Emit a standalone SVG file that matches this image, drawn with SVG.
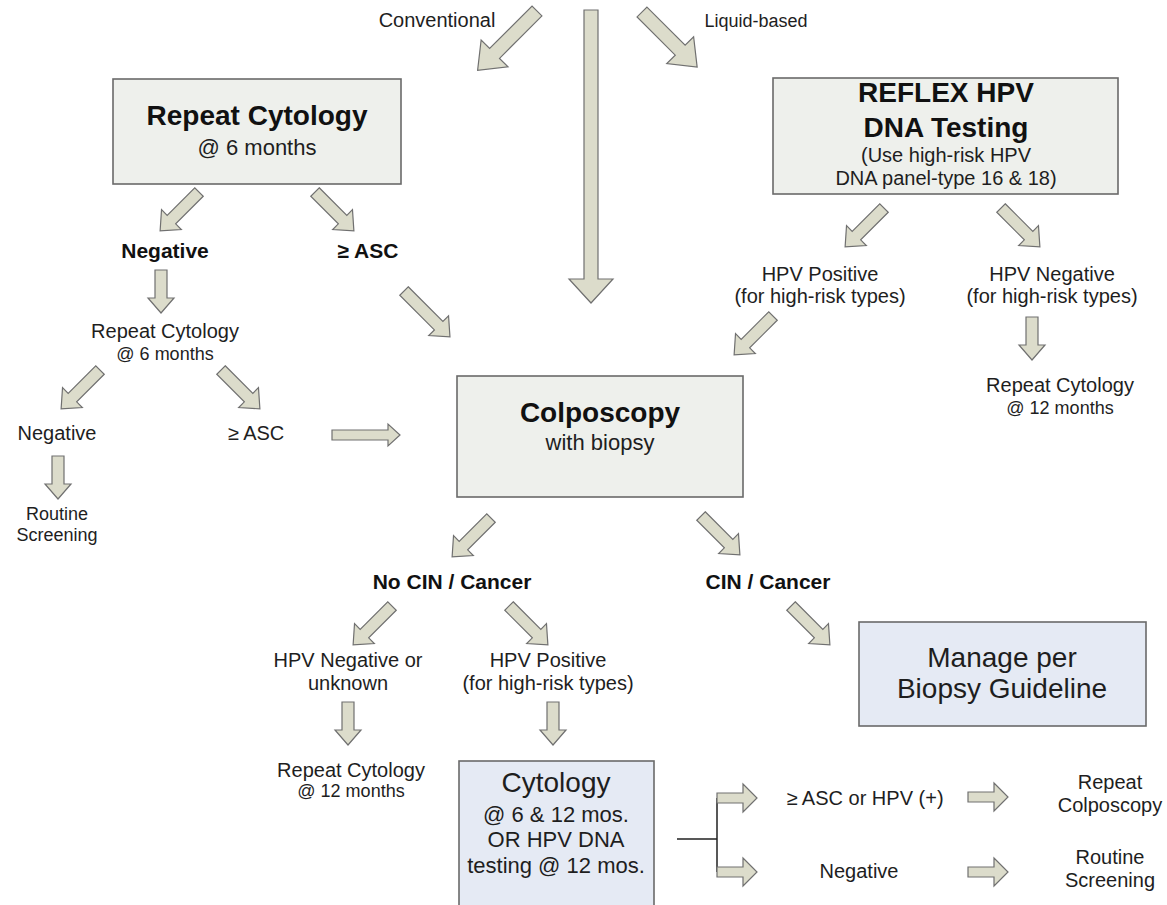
<svg xmlns="http://www.w3.org/2000/svg" width="1167" height="905" viewBox="0 0 1167 905">
<defs>
<style>
.box{fill:#eef0ec;stroke:#6a6a6a;stroke-width:1.6}
.bbox{fill:#e5eaf4;stroke:#6a6a6a;stroke-width:1.6}
.ar{fill:#dcdccb;stroke:#707070;stroke-width:1.2;stroke-linejoin:miter}
text{font-family:"Liberation Sans",Arial,sans-serif;fill:#1e1e1e;text-anchor:middle}
.b{font-weight:bold;fill:#111}
.t28{font-size:28px}
.t22{font-size:22px}
.t21{font-size:21px}
.t20{font-size:20px}
.t18{font-size:18px}
</style>
<path id="ad" d="M0,-6 L39,-6 L39,-14 L55,0 L39,14 L39,6 L0,6 Z"/>
<path id="ad65" d="M0,-6 L49,-6 L49,-14 L65,0 L49,14 L49,6 L0,6 Z"/>
<path id="av" d="M0,-6 L28,-6 L28,-13 L43,0 L28,13 L28,6 L0,6 Z"/>
<path id="ah" d="M0,-5 L26,-5 L26,-14 L40,0 L26,14 L26,5 L0,5 Z"/>
</defs>
<g id="connectors">
<path class="ar" transform="translate(537,11) rotate(135)" d="M0,-7 L60,-7 L60,-19 L84,0 L60,19 L60,7 L0,7 Z"/>
<path class="ar" transform="translate(642,12) rotate(45)" d="M0,-7 L54,-7 L54,-19 L78,0 L54,19 L54,7 L0,7 Z"/>
<path class="ar" transform="translate(591,10) rotate(90)" d="M0,-7 L269,-7 L269,-22 L293,0 L269,22 L269,7 L0,7 Z"/>
<use href="#ad" class="ar" transform="translate(199,192) rotate(135)"/>
<use href="#ad" class="ar" transform="translate(315,192) rotate(45)"/>
<use href="#av" class="ar" transform="translate(161,270) rotate(90)"/>
<use href="#ad65" class="ar" transform="translate(404,291) rotate(45)"/>
<use href="#ad" class="ar" transform="translate(100,370) rotate(135)"/>
<use href="#ad" class="ar" transform="translate(221,370) rotate(45)"/>
<use href="#av" class="ar" transform="translate(58,456) rotate(90)"/>
<path class="ar" transform="translate(332,435)" d="M0,-5 L56,-5 L56,-11 L68,0 L56,11 L56,5 L0,5 Z"/>
<use href="#ad" class="ar" transform="translate(884,208) rotate(135)"/>
<use href="#ad" class="ar" transform="translate(1001,208) rotate(45)"/>
<use href="#ad" class="ar" transform="translate(773,316) rotate(135)"/>
<use href="#av" class="ar" transform="translate(1032,317) rotate(90)"/>
<use href="#ad" class="ar" transform="translate(491,518) rotate(135)"/>
<use href="#ad" class="ar" transform="translate(701,516) rotate(45)"/>
<use href="#ad" class="ar" transform="translate(791,606) rotate(45)"/>
<use href="#ad" class="ar" transform="translate(392,606) rotate(135)"/>
<use href="#ad" class="ar" transform="translate(509,606) rotate(45)"/>
<use href="#av" class="ar" transform="translate(348,702) rotate(90)"/>
<use href="#av" class="ar" transform="translate(553,702) rotate(90)"/>
<path d="M677,839 H717 M717,798 V872" fill="none" stroke="#222" stroke-width="1.5"/>
<use href="#ah" class="ar" transform="translate(717,798)"/>
<use href="#ah" class="ar" transform="translate(717,872)"/>
<use href="#ah" class="ar" transform="translate(968,797)"/>
<use href="#ah" class="ar" transform="translate(968,872)"/>
</g>
<g id="labels-top">
<text class="t20" x="437" y="27">Conventional</text>
<text class="t18" x="756" y="27">Liquid-based</text>
</g>
<g id="n-repeat-cytology">
<rect class="box" x="113" y="79" width="288" height="105"/>
<text class="b t28" x="257" y="125">Repeat Cytology</text>
<text class="t22" x="257" y="155">@ 6 months</text>
</g>
<g id="n-reflex">
<rect class="box" x="773" y="78" width="345" height="116"/>
<text class="b t28" x="946" y="102">REFLEX HPV</text>
<text class="b t28" x="946" y="137">DNA Testing</text>
<text class="t20" x="946" y="162">(Use high-risk HPV</text>
<text class="t20" x="946" y="185">DNA panel-type 16 &amp; 18)</text>
</g>
<g id="n-negative1"><text class="b t21" x="165" y="258">Negative</text></g>
<g id="n-asc1"><text class="b t21" x="368" y="258">≥ ASC</text></g>
<g id="n-repeat6">
<text class="t20" x="165" y="338">Repeat Cytology</text>
<text class="t18" x="165" y="360">@ 6 months</text>
</g>
<g id="n-negative2"><text class="t20" x="57" y="440">Negative</text></g>
<g id="n-asc2"><text class="t20" x="256" y="440">≥ ASC</text></g>
<g id="n-routine1">
<text class="t18" x="57" y="520">Routine</text>
<text class="t18" x="57" y="541">Screening</text>
</g>
<g id="n-hpvpos1">
<text class="t20" x="820" y="281">HPV Positive</text>
<text class="t20" x="820" y="303">(for high-risk types)</text>
</g>
<g id="n-hpvneg1">
<text class="t20" x="1052" y="281">HPV Negative</text>
<text class="t20" x="1052" y="303">(for high-risk types)</text>
</g>
<g id="n-repeat12a">
<text class="t20" x="1060" y="392">Repeat Cytology</text>
<text class="t18" x="1060" y="414">@ 12 months</text>
</g>
<g id="n-colposcopy">
<rect class="box" x="457" y="376" width="286" height="121"/>
<text class="b t28" x="600" y="422">Colposcopy</text>
<text class="t22" x="600" y="450">with biopsy</text>
</g>
<g id="n-nocin"><text class="b t21" x="452" y="589">No CIN / Cancer</text></g>
<g id="n-cin"><text class="b t21" x="768" y="589">CIN / Cancer</text></g>
<g id="n-manage">
<rect class="bbox" x="859" y="622" width="287" height="104"/>
<text class="t28" x="1002" y="667">Manage per</text>
<text class="t28" x="1002" y="698">Biopsy Guideline</text>
</g>
<g id="n-hpvneg2">
<text class="t20" x="348" y="667">HPV Negative or</text>
<text class="t20" x="348" y="690">unknown</text>
</g>
<g id="n-hpvpos2">
<text class="t20" x="548" y="667">HPV Positive</text>
<text class="t20" x="548" y="690">(for high-risk types)</text>
</g>
<g id="n-repeat12b">
<text class="t20" x="351" y="777">Repeat Cytology</text>
<text class="t18" x="351" y="797">@ 12 months</text>
</g>
<g id="n-cytology">
<rect class="bbox" x="459" y="761" width="195" height="160"/>
<text class="t28" x="556" y="792">Cytology</text>
<text class="t22" x="556" y="822">@ 6 &amp; 12 mos.</text>
<text class="t22" x="556" y="847">OR HPV DNA</text>
<text class="t22" x="556" y="873">testing @ 12 mos.</text>
</g>
<g id="n-asc-hpv"><text class="t20" x="865" y="805">≥ ASC or HPV (+)</text></g>
<g id="n-negative3"><text class="t20" x="859" y="878">Negative</text></g>
<g id="n-repeat-colpo">
<text class="t20" x="1110" y="789">Repeat</text>
<text class="t20" x="1110" y="812">Colposcopy</text>
</g>
<g id="n-routine2">
<text class="t20" x="1110" y="864">Routine</text>
<text class="t20" x="1110" y="887">Screening</text>
</g>
</svg>
